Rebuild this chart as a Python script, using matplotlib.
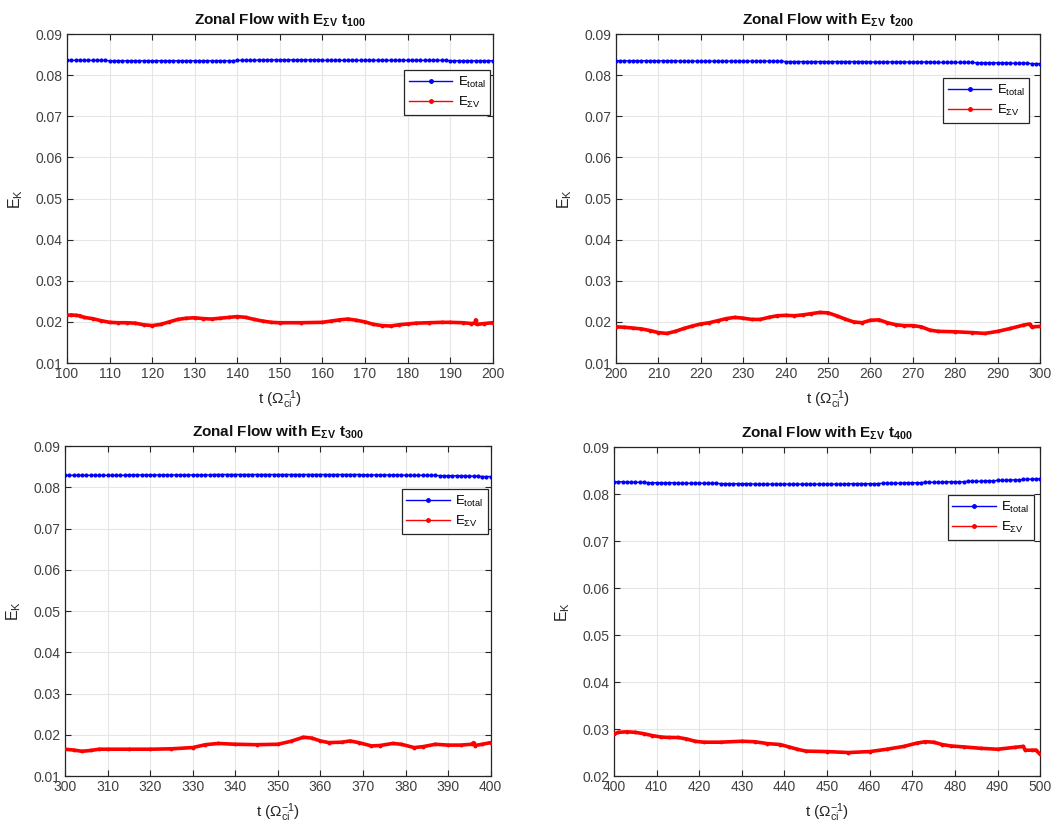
import matplotlib
matplotlib.use("Agg")
import matplotlib.pyplot as plt
import numpy as np
from matplotlib.lines import Line2D

plt.rcParams["font.family"] = ["Liberation Sans", "DejaVu Sans"]
plt.rcParams["mathtext.fontset"] = "custom"
plt.rcParams["mathtext.rm"] = "Liberation Sans"
plt.rcParams["mathtext.it"] = "Liberation Sans:italic"
plt.rcParams["mathtext.bf"] = "Liberation Sans:bold"

# --- total kinetic energy, sampled once per unit time ---
t_total_100 = np.arange(100, 201)
e_total_100 = [
    0.0836, 0.0836, 0.0836, 0.0836, 0.0836, 0.0836, 0.0836, 0.0836, 0.0836, 0.0836,
    0.0835, 0.0835, 0.0835, 0.0835, 0.0835, 0.0835, 0.0835, 0.0835, 0.0835, 0.0835,
    0.0835, 0.0835, 0.0835, 0.0835, 0.0835, 0.0835, 0.0835, 0.0835, 0.0835, 0.0835,
    0.0835, 0.0835, 0.0835, 0.0835, 0.0835, 0.0835, 0.0835, 0.0835, 0.0835, 0.0835,
    0.0836, 0.0836, 0.0836, 0.0836, 0.0836, 0.0837, 0.0837, 0.0837, 0.0837, 0.0837,
    0.0837, 0.0837, 0.0837, 0.0837, 0.0837, 0.0837, 0.0837, 0.0837, 0.0837, 0.0837,
    0.0836, 0.0836, 0.0836, 0.0836, 0.0836, 0.0836, 0.0836, 0.0836, 0.0836, 0.0836,
    0.0836, 0.0836, 0.0836, 0.0836, 0.0836, 0.0836, 0.0836, 0.0836, 0.0836, 0.0836,
    0.0836, 0.0836, 0.0836, 0.0836, 0.0836, 0.0836, 0.0836, 0.0836, 0.0836, 0.0836,
    0.0835, 0.0835, 0.0835, 0.0835, 0.0835, 0.0835, 0.0835, 0.0835, 0.0835, 0.0835,
    0.0835,
]
t_total_200 = np.arange(200, 301)
e_total_200 = [
    0.0835, 0.0835, 0.0835, 0.0835, 0.0835, 0.0835, 0.0835, 0.0835, 0.0835, 0.0835,
    0.0835, 0.0835, 0.0835, 0.0835, 0.0835, 0.0834, 0.0834, 0.0834, 0.0834, 0.0834,
    0.0834, 0.0834, 0.0834, 0.0834, 0.0834, 0.0834, 0.0834, 0.0834, 0.0834, 0.0834,
    0.0834, 0.0834, 0.0834, 0.0834, 0.0834, 0.0834, 0.0834, 0.0834, 0.0834, 0.0834,
    0.0833, 0.0833, 0.0833, 0.0833, 0.0833, 0.0833, 0.0833, 0.0833, 0.0833, 0.0833,
    0.0833, 0.0833, 0.0833, 0.0833, 0.0833, 0.0833, 0.0833, 0.0833, 0.0833, 0.0833,
    0.0832, 0.0832, 0.0832, 0.0832, 0.0832, 0.0832, 0.0832, 0.0832, 0.0832, 0.0832,
    0.0832, 0.0832, 0.0832, 0.0832, 0.0832, 0.0831, 0.0831, 0.0831, 0.0831, 0.0831,
    0.0831, 0.0831, 0.0831, 0.0831, 0.0831, 0.0830, 0.0830, 0.0830, 0.0830, 0.0830,
    0.0830, 0.0830, 0.0830, 0.0829, 0.0829, 0.0829, 0.0829, 0.0829, 0.0828, 0.0828,
    0.0828,
]
t_total_300 = np.arange(300, 401)
e_total_300 = [
    0.0829, 0.0829, 0.0829, 0.0829, 0.0829, 0.0829, 0.0829, 0.0829, 0.0829, 0.0829,
    0.0829, 0.0829, 0.0829, 0.0829, 0.0829, 0.0830, 0.0830, 0.0830, 0.0830, 0.0830,
    0.0830, 0.0830, 0.0830, 0.0830, 0.0830, 0.0830, 0.0830, 0.0830, 0.0830, 0.0830,
    0.0830, 0.0830, 0.0830, 0.0830, 0.0830, 0.0831, 0.0831, 0.0831, 0.0831, 0.0831,
    0.0831, 0.0831, 0.0831, 0.0831, 0.0831, 0.0831, 0.0831, 0.0831, 0.0831, 0.0831,
    0.0831, 0.0831, 0.0831, 0.0831, 0.0831, 0.0831, 0.0831, 0.0831, 0.0831, 0.0831,
    0.0831, 0.0831, 0.0831, 0.0831, 0.0831, 0.0831, 0.0831, 0.0831, 0.0831, 0.0831,
    0.0830, 0.0830, 0.0830, 0.0830, 0.0830, 0.0830, 0.0830, 0.0830, 0.0830, 0.0830,
    0.0829, 0.0829, 0.0829, 0.0829, 0.0829, 0.0829, 0.0829, 0.0829, 0.0828, 0.0828,
    0.0828, 0.0828, 0.0828, 0.0828, 0.0827, 0.0827, 0.0827, 0.0827, 0.0826, 0.0826,
    0.0826,
]
t_total_400 = np.arange(400, 501)
e_total_400 = [
    0.0826, 0.0826, 0.0826, 0.0825, 0.0825, 0.0825, 0.0825, 0.0825, 0.0824, 0.0824,
    0.0824, 0.0824, 0.0824, 0.0824, 0.0824, 0.0823, 0.0823, 0.0823, 0.0823, 0.0823,
    0.0823, 0.0823, 0.0823, 0.0823, 0.0823, 0.0822, 0.0822, 0.0822, 0.0822, 0.0822,
    0.0822, 0.0822, 0.0822, 0.0821, 0.0821, 0.0821, 0.0821, 0.0821, 0.0821, 0.0821,
    0.0821, 0.0821, 0.0821, 0.0821, 0.0821, 0.0821, 0.0821, 0.0821, 0.0821, 0.0821,
    0.0821, 0.0821, 0.0821, 0.0821, 0.0821, 0.0822, 0.0822, 0.0822, 0.0822, 0.0822,
    0.0822, 0.0822, 0.0822, 0.0823, 0.0823, 0.0823, 0.0823, 0.0823, 0.0824, 0.0824,
    0.0824, 0.0824, 0.0824, 0.0825, 0.0825, 0.0825, 0.0825, 0.0825, 0.0826, 0.0826,
    0.0826, 0.0826, 0.0826, 0.0827, 0.0827, 0.0827, 0.0827, 0.0828, 0.0828, 0.0828,
    0.0829, 0.0829, 0.0829, 0.0830, 0.0830, 0.0830, 0.0831, 0.0831, 0.0832, 0.0832,
    0.0833,
]

# --- zonal-flow (sum over V) kinetic energy ---
t_zf_100 = [100, 101, 102, 103, 104, 106, 108, 110, 112, 114, 116, 118, 120, 122,
            124, 126, 128, 130, 132, 134, 136, 138, 140, 142, 144, 146, 148, 150,
            155, 160, 162, 164, 166, 168, 170, 172, 174, 176, 178, 180, 182, 185,
            188, 190, 193, 195, 195.8, 196, 196.3, 198, 200]
e_zf_100 = [0.0216, 0.0217, 0.0216, 0.0215, 0.0211, 0.0208, 0.0203, 0.0199, 0.0198,
            0.0198, 0.0197, 0.0193, 0.0191, 0.0194, 0.0200, 0.0206, 0.0209, 0.0210,
            0.0208, 0.0207, 0.0209, 0.0211, 0.0213, 0.0211, 0.0206, 0.0202, 0.0199,
            0.0198, 0.0198, 0.0199, 0.0202, 0.0205, 0.0207, 0.0204, 0.0200, 0.0194,
            0.0191, 0.0190, 0.0193, 0.0195, 0.0197, 0.0198, 0.0199, 0.0199, 0.0198,
            0.0196, 0.0197, 0.0205, 0.0194, 0.0196, 0.0198]
t_zf_200 = [200, 202, 204, 206, 208, 210, 212, 214, 216, 218, 220, 222, 224, 226,
            228, 230, 232, 234, 236, 238, 240, 242, 244, 246, 248, 250, 252, 254,
            256, 258, 260, 262, 264, 266, 268, 270, 272, 274, 276, 280, 284, 287,
            290, 293, 296, 297.5, 298, 300]
e_zf_200 = [0.0188, 0.0187, 0.0185, 0.0183, 0.0179, 0.0174, 0.0172, 0.0177, 0.0184,
            0.0190, 0.0195, 0.0198, 0.0203, 0.0208, 0.0211, 0.0209, 0.0206, 0.0206,
            0.0211, 0.0215, 0.0216, 0.0215, 0.0217, 0.0220, 0.0223, 0.0222, 0.0215,
            0.0207, 0.0200, 0.0198, 0.0204, 0.0205, 0.0198, 0.0193, 0.0191, 0.0191,
            0.0188, 0.0180, 0.0177, 0.0176, 0.0174, 0.0172, 0.0177, 0.0184, 0.0192,
            0.0195, 0.0188, 0.0189]
t_zf_300 = [300, 302, 304, 306, 308, 310, 315, 320, 325, 330, 333, 336, 340, 345,
            350, 353, 356, 358, 360, 362, 365, 367, 369, 372, 374, 377, 379, 382,
            384, 387, 390, 393, 395.5, 396, 396.3, 398, 400]
e_zf_300 = [0.0165, 0.0163, 0.0160, 0.0162, 0.0165, 0.0165, 0.0165, 0.0165, 0.0166,
            0.0169, 0.0176, 0.0179, 0.0177, 0.0176, 0.0177, 0.0184, 0.0194, 0.0192,
            0.0185, 0.0181, 0.0182, 0.0185, 0.0181, 0.0173, 0.0174, 0.0179, 0.0177,
            0.0169, 0.0171, 0.0177, 0.0175, 0.0175, 0.0177, 0.0181, 0.0174, 0.0177,
            0.0181]
t_zf_400 = [400, 401, 403, 405, 407, 409, 411, 413, 415, 417, 419, 421, 425, 430,
            433, 436, 439, 441, 443, 445, 450, 455, 460, 464, 468, 471, 473, 475,
            477, 479, 482, 486, 490, 494, 496, 496.5, 498, 499, 500]
e_zf_400 = [0.0289, 0.0293, 0.0294, 0.0293, 0.0290, 0.0286, 0.0283, 0.0282, 0.0282,
            0.0279, 0.0274, 0.0272, 0.0272, 0.0274, 0.0273, 0.0269, 0.0267, 0.0262,
            0.0257, 0.0253, 0.0252, 0.0250, 0.0252, 0.0257, 0.0263, 0.0270, 0.0273,
            0.0272, 0.0267, 0.0264, 0.0262, 0.0259, 0.0257, 0.0261, 0.0263, 0.0255,
            0.0255, 0.0255, 0.0246]

panels = [
    ("100", t_total_100, e_total_100, t_zf_100, e_zf_100, (100, 200), (0.01, 0.09)),
    ("200", t_total_200, e_total_200, t_zf_200, e_zf_200, (200, 300), (0.01, 0.09)),
    ("300", t_total_300, e_total_300, t_zf_300, e_zf_300, (300, 400), (0.01, 0.09)),
    ("400", t_total_400, e_total_400, t_zf_400, e_zf_400, (400, 500), (0.02, 0.09)),
]
# axes rectangles in figure fraction and legend anchor (axes fraction)
rects = [
    (0.0635, 0.5605, 0.4035, 0.3983),
    (0.5839, 0.5605, 0.4020, 0.3983),
    (0.0616, 0.0605, 0.4035, 0.3995),
    (0.5820, 0.0605, 0.4040, 0.3983),
]
legend_anchor = [(0.994, 0.891), (0.974, 0.867), (0.993, 0.870), (0.985, 0.854)]

INK = "#262626"
BLUE, RED = "#0000ff", "#ff0000"

fig = plt.figure(figsize=(10.55, 8.26), dpi=100)
for (tag, tt, et, tz, ez, xlim, ylim), rect, anc in zip(panels, rects, legend_anchor):
    ax = fig.add_axes(rect)
    ax.plot(tt, et, color=BLUE, lw=1.0, marker=".", ms=4, zorder=3)
    ax.plot(tz, ez, color=RED, lw=2.6, marker=".", ms=3.5, zorder=3,
            solid_capstyle="round", solid_joinstyle="round")
    ax.set_xlim(*xlim)
    ax.set_ylim(*ylim)
    ax.set_xticks(np.arange(xlim[0], xlim[1] + 1, 10))
    ax.set_yticks(np.round(np.arange(ylim[0], ylim[1] + 0.001, 0.01), 2))
    ax.yaxis.set_major_formatter(plt.FormatStrFormatter("%.2f"))
    ax.grid(True, color="#e6e6e6", lw=0.8, zorder=0)
    ax.set_axisbelow(True)
    ax.tick_params(direction="in", top=True, right=True, length=4, width=0.8,
                   colors=INK, labelcolor="#404040", labelsize=10, pad=3)
    for sp in ax.spines.values():
        sp.set_color(INK)
        sp.set_linewidth(0.9)
    ax.set_title(r"Zonal Flow with E$_{\mathbf{\Sigma V}}$ t$_{\mathbf{" + tag + "}}$",
                 fontsize=11, fontweight="bold", color="#111111", pad=7)
    ax.set_xlabel(r"t ($\Omega_{\rm ci}^{-1}$)", fontsize=11, color="#262626", labelpad=5)
    ax.set_ylabel(r"E$_{\rm K}$", fontsize=11.5, color="#262626", labelpad=8)
    handles = [
        Line2D([], [], color=BLUE, lw=1.0, marker=".", ms=5),
        Line2D([], [], color=RED, lw=1.0, marker=".", ms=5),
    ]
    leg = ax.legend(handles, [r"E$_{\rm total}$", r"E$_{\Sigma\rm V}$"],
                    loc="upper right", bbox_to_anchor=anc, borderaxespad=0,
                    fontsize=9.5, handlelength=3.3, handletextpad=0.4,
                    borderpad=0.35, labelspacing=0.4, fancybox=False,
                    framealpha=1, edgecolor=INK, numpoints=1)
    leg.get_frame().set_linewidth(0.9)

fig.savefig("out.png", dpi=100)
